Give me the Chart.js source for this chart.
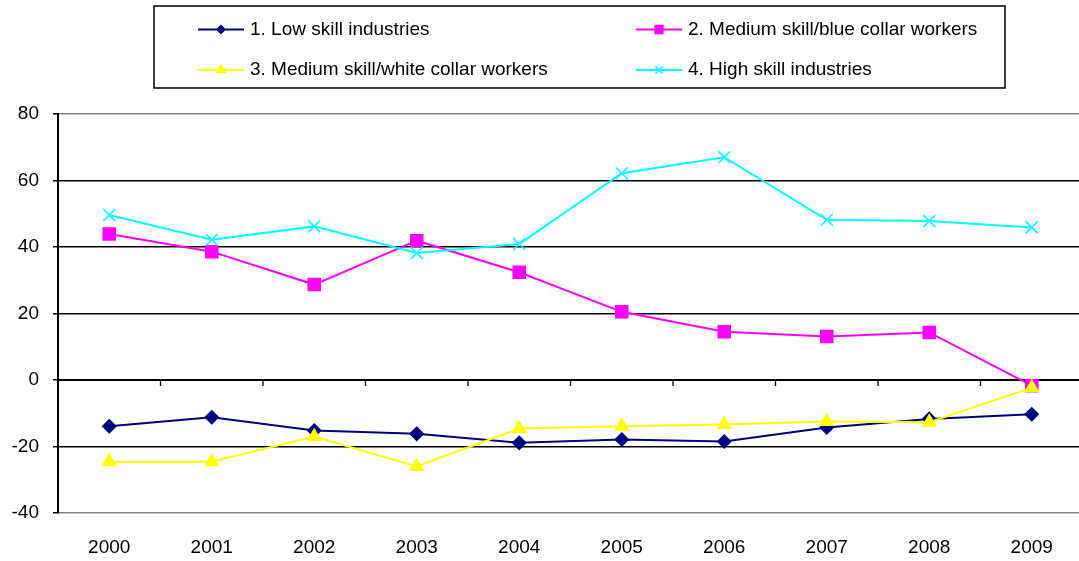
<!DOCTYPE html>
<html>
<head>
<meta charset="utf-8">
<script src="https://cdn.jsdelivr.net/npm/chart.js@4/dist/chart.umd.min.js"></script>
<style>
  html, body { margin: 0; padding: 0; overflow: hidden; background: #fff; }
  canvas { display: block; }
</style>
</head>
<body>
<canvas id="chart" width="1084" height="561" style="width:1084px;height:561px"></canvas>
<script>
// data
const years = ['2000', '2001', '2002', '2003', '2004', '2005', '2006', '2007', '2008', '2009'];
const lowSkill = [-13.9, -11.2, -15.2, -16.2, -18.9, -17.9, -18.5, -14.3, -11.7, -10.3];
const blueCollar = [43.9, 38.6, 28.7, 41.9, 32.4, 20.5, 14.5, 13.1, 14.3, -1.7];
const whiteCollar = [-24.6, -24.6, -17.0, -26.0, -14.6, -13.9, -13.4, -12.5, -12.7, -2.3];
const highSkill = [49.6, 42.2, 46.2, 38.2, 40.9, 62.2, 67.0, 48.2, 47.8, 45.9];
const yTicks = [-40, -20, 0, 20, 40, 60, 80];

const seriesNames = [
    '1. Low skill industries',
    '2. Medium skill/blue collar workers',
    '3. Medium skill/white collar workers',
    '4. High skill industries'
];

const FONT = "'Liberation Sans', Arial, sans-serif";

//thick zero line with little ticks between the years
const zeroAxis = {
    id: 'zeroAxis',
    beforeDatasetsDraw(chart) {
        const {ctx, chartArea, scales} = chart;
        const y0 = scales.y.getPixelForValue(0);
        ctx.save();
        ctx.strokeStyle = '#000';
        ctx.lineWidth = 2;
        ctx.beginPath();
        ctx.moveTo(chartArea.left, y0);
        ctx.lineTo(chartArea.right, y0);
        ctx.stroke();
        ctx.lineWidth = 1.3;
        ctx.beginPath();
        for (let i = 1; i < years.length; i++) {
            const xp = (scales.x.getPixelForValue(i - 1) + scales.x.getPixelForValue(i)) / 2;
            ctx.moveTo(xp, y0);
            ctx.lineTo(xp, y0 + 6);
        }
        ctx.stroke();
        ctx.restore();
    }
};

//boxed legend, two columns like excel
const legendBox = {
    id: 'legendBox',
    afterDraw(chart) {
        const ctx = chart.ctx;
        ctx.save();
        ctx.strokeStyle = '#000';
        ctx.lineWidth = 1.5;
        ctx.strokeRect(154, 6, 851, 82);
        ctx.font = '19px ' + FONT;
        ctx.textBaseline = 'middle';
        ctx.fillStyle = '#000';
        const legendRadius = [4, 5.5, 5, 5];
        chart.data.datasets.forEach((ds, i) => {
            const col = i % 2;
            const row = Math.floor(i / 2);
            const x0 = col ? 636 : 198;
            const y = row ? 70 : 29.5;
            ctx.strokeStyle = ds.borderColor;
            ctx.lineWidth = 2;
            ctx.beginPath();
            ctx.moveTo(x0, y);
            ctx.lineTo(x0 + 46, y);
            ctx.stroke();
            ctx.fillStyle = ds.pointBackgroundColor;
            ctx.strokeStyle = ds.pointBorderColor;
            ctx.lineWidth = 1.5;
            Chart.helpers.drawPoint(ctx, {
                pointStyle: ds.pointStyle,
                radius: legendRadius[i],
                borderWidth: 1.5,
                rotation: 0
            }, x0 + 23, y);
            ctx.fillStyle = '#000';
            ctx.fillText(ds.label, x0 + 52, y);
        });
        ctx.restore();
    }
};

function series(label, data, color, style, radius, order) {
    return {
        label: label,
        data: data,
        borderColor: color,
        backgroundColor: color,
        pointBackgroundColor: color,
        pointBorderColor: color,
        pointStyle: style,
        pointRadius: radius,
        pointHoverRadius: radius,
        pointBorderWidth: 1.5,
        borderWidth: 2,
        tension: 0,
        order: order
    };
}

new Chart(document.getElementById('chart'), {
    type: 'line',
    data: {
        labels: years,
        datasets: [
            series(seriesNames[0], lowSkill, '#000080', 'rectRot', 6.5, 4),
            series(seriesNames[1], blueCollar, '#ff00ff', 'rect', 8.5, 3),
            series(seriesNames[2], whiteCollar, '#ffff00', 'triangle', 7.5, 2),
            series(seriesNames[3], highSkill, '#00ffff', 'crossRot', 8.5, 1)
        ]
    },
    options: {
        responsive: false,
        animation: false,
        layout: { autoPadding: false, padding: { top: 114, right: 1, left: 0, bottom: 0 } },
        plugins: {
            legend: { display: false },
            tooltip: { enabled: false }
        },
        scales: {
            x: {
                offset: true,
                afterFit(s) {
                    s.height = 48;
                    s.paddingLeft = 0;
                    s.paddingRight = 0;
                },
                grid: { display: false, drawTicks: false },
                border: { display: false },
                ticks: {
                    color: '#000',
                    font: { family: FONT, size: 19 },
                    padding: 23,
                    maxRotation: 0,
                    autoSkip: false
                }
            },
            y: {
                min: -40,
                max: 80,
                afterFit(s) { s.width = 58; },
                afterBuildTicks(s) { s.ticks = yTicks.map(v => ({ value: v })); },
                ticks: {
                    color: '#000',
                    font: { family: FONT, size: 19 },
                    padding: 14
                },
                grid: {
                    color: c => (c.tick && (c.tick.value === 80 || c.tick.value === -40)) ? '#808080' : '#000',
                    lineWidth: 1.5,
                    tickColor: '#000',
                    tickLength: 5,
                    tickWidth: 1.5
                },
                border: { color: '#000', width: 2 }
            }
        }
    },
    plugins: [zeroAxis, legendBox]
});
</script>
</body>
</html>
